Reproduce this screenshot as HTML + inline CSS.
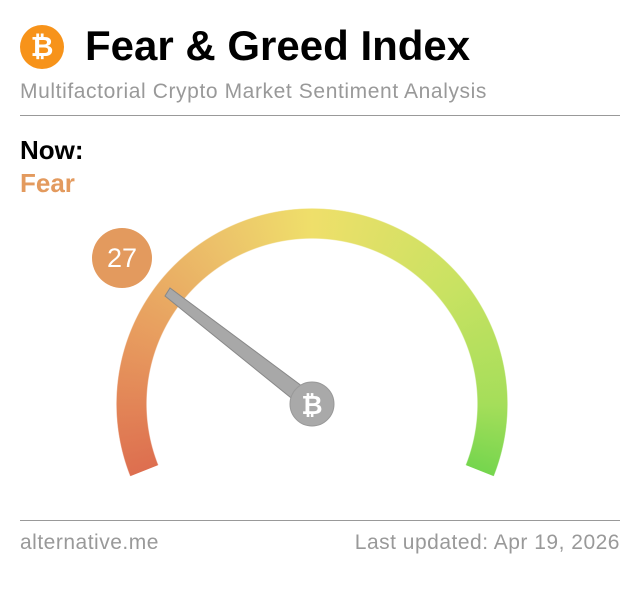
<!DOCTYPE html><html><head><style>
body{margin:0;width:640px;height:575px;background:#fff;font-family:"Liberation Sans",sans-serif;position:relative;overflow:hidden}
.a{position:absolute;white-space:nowrap}
.gauge{position:absolute;left:116px;top:208px;width:392px;height:392px;border-radius:50%;
background:conic-gradient(from 0deg,#efdf6a 0deg,#c9e262 50deg,#a5de5a 90deg,#6ed44c 115deg,#6ed44c 130deg,#d9614a 230deg,#dd6e4f 248deg,#e79a5e 290deg,#ecc26a 330deg,#efdf6a 360deg);
-webkit-mask:radial-gradient(circle,transparent 165px,#000 166px,#000 195px,transparent 196px);
mask:radial-gradient(circle,transparent 165px,#000 166px,#000 195px,transparent 196px);
clip-path:polygon(50% 50%,118% 77%,120% -20%,-20% -20%,-18% 77%)}
</style></head><body>
<div class="a" style="left:20px;top:25px;width:44px;height:44px;border-radius:50%;background:#f7931a;color:#fff;font:bold 28px/44px 'Liberation Sans';text-align:center">₿</div>
<div class="a" style="left:85px;top:22px;font-size:42px;font-weight:bold;color:#000">Fear &amp; Greed Index</div>
<div class="a" style="left:20px;top:80px;font-size:21px;letter-spacing:0.6px;color:#999">Multifactorial Crypto Market Sentiment Analysis</div>
<div class="a" style="left:20px;top:115px;width:600px;height:1px;background:#999"></div>
<div class="a" style="left:20px;top:135px;font-size:26px;font-weight:bold;color:#000">Now:</div>
<div class="a" style="left:20px;top:168px;font-size:26px;font-weight:bold;color:#e39a5e">Fear</div>
<div class="gauge"></div>
<div class="a" style="left:92px;top:228px;width:60px;height:60px;border-radius:50%;background:#e39a5e;color:#fff;font-size:27px;line-height:60px;text-align:center">27</div>
<svg class="a" style="left:0;top:0" width="640" height="575">
<polygon points="165,296 170,288 318,398 306,410" fill="#a8a8a8" stroke="#888" stroke-width="1"/>
<circle cx="312" cy="404" r="22" fill="#a9a9a9" stroke="#999"/>
<text x="312" y="414" font-family="Liberation Sans" font-weight="bold" font-size="26" fill="#fff" text-anchor="middle">₿</text>
</svg>
<div class="a" style="left:20px;top:520px;width:600px;height:1px;background:#999"></div>
<div class="a" style="left:20px;top:531px;font-size:21px;letter-spacing:0.5px;color:#999">alternative.me</div>
<div class="a" style="right:20px;top:531px;font-size:21px;letter-spacing:0.5px;color:#999">Last updated: Apr 19, 2026</div>
</body></html>
